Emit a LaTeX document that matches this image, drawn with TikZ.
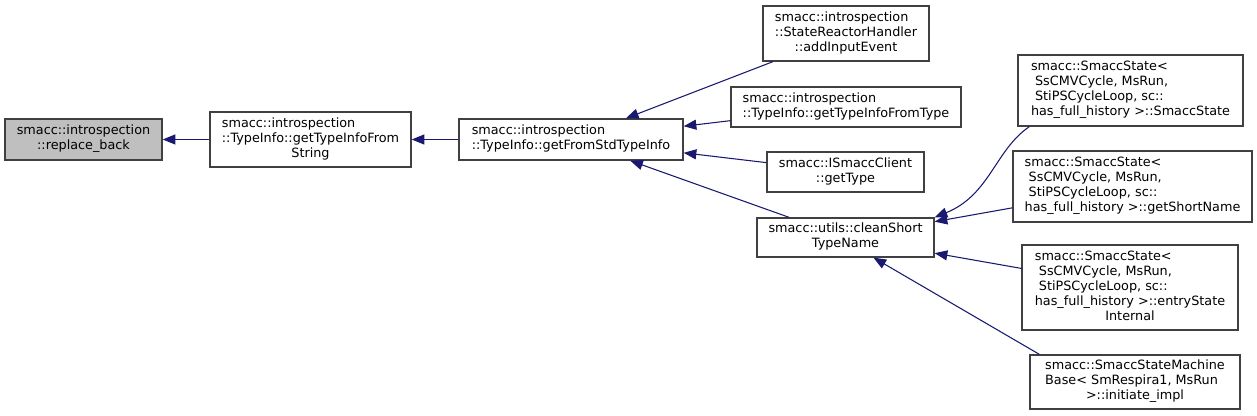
\documentclass[tikz,border=0pt]{standalone}
\usepackage{fontspec}
\setmainfont{DejaVu Sans}
\usepackage{xcolor}
\usepackage{tikz}
\usetikzlibrary{arrows.meta}
\definecolor{edgeblue}{HTML}{191970}
\definecolor{boxgray}{HTML}{BFBFBF}
\newcommand{\boxtext}[1]{\begin{tabular}{@{}l@{}}#1\end{tabular}}
\newcommand{\lastln}[1]{\multicolumn{1}{@{}c@{}}{#1}}

\begin{document}
\begin{tikzpicture}[x=0.75pt,y=-0.75pt,
  font=\fontsize{9.6}{11.25}\selectfont,
  fn/.style={draw=black!75, line width=1pt, fill=white, inner sep=0pt},
  edge/.style={draw=edgeblue, line width=0.8pt, -{Triangle[length=9.5pt,width=7.5pt]}}]
  \useasboundingbox (0,0) rectangle (1257,416);
  % callee chain
  \node[fn, fill=boxgray, minimum width=157*0.75pt, minimum height=41*0.75pt] (rb) at (83.5,139.5)
    {\boxtext{smacc::introspection\\\lastln{::replace\_back}}};
  \node[fn, minimum width=201*0.75pt, minimum height=55*0.75pt] (gtifs) at (310.5,139.5)
    {\boxtext{smacc::introspection\\::TypeInfo::getTypeInfoFrom\\\lastln{String}}};
  \node[fn, minimum width=224*0.75pt, minimum height=41*0.75pt] (gfsti) at (571,139.5)
    {\boxtext{smacc::introspection\\::TypeInfo::getFromStdTypeInfo}};
  % callers of getFromStdTypeInfo
  \node[fn, minimum width=166*0.75pt, minimum height=55*0.75pt] (aie) at (846,33.5)
    {\boxtext{smacc::introspection\\::StateReactorHandler\\\lastln{::addInputEvent}}};
  \node[fn, minimum width=230*0.75pt, minimum height=40*0.75pt] (gtift) at (846,107)
    {\boxtext{smacc::introspection\\::TypeInfo::getTypeInfoFromType}};
  \node[fn, minimum width=157*0.75pt, minimum height=40*0.75pt] (gt) at (845.5,172)
    {\boxtext{smacc::ISmaccClient\\\lastln{::getType}}};
  \node[fn, minimum width=177*0.75pt, minimum height=39*0.75pt] (csn) at (845.5,237.5)
    {\boxtext{smacc::utils::cleanShort\\\lastln{TypeName}}};
  % callers of cleanShortTypeName
  \node[fn, minimum width=225*0.75pt, minimum height=71*0.75pt] (ss) at (1130.5,90.5)
    {\boxtext{smacc::SmaccState<\\\ SsCMVCycle, MsRun,\\\ StiPSCycleLoop, sc::\\has\_full\_history >::SmaccState}};
  \node[fn, minimum width=239*0.75pt, minimum height=71*0.75pt] (gsn) at (1132.5,186.5)
    {\boxtext{smacc::SmaccState<\\\ SsCMVCycle, MsRun,\\\ StiPSCycleLoop, sc::\\has\_full\_history >::getShortName}};
  \node[fn, minimum width=216*0.75pt, minimum height=85*0.75pt] (esi) at (1130,287.5)
    {\boxtext{smacc::SmaccState<\\\ SsCMVCycle, MsRun,\\\ StiPSCycleLoop, sc::\\has\_full\_history >::entryState\\\lastln{Internal}}};
  \node[fn, minimum width=210*0.75pt, minimum height=54*0.75pt] (ii) at (1135,382)
    {\boxtext{smacc::SmaccStateMachine\\Base< SmRespira1, MsRun\\\lastln{>::initiate\_impl}}};
  % calls
  \draw[edge] (gtifs) -- (rb);
  \draw[edge] (gfsti) -- (gtifs);
  \draw[edge] (aie) -- (gfsti);
  \draw[edge] (gtift) -- (gfsti);
  \draw[edge] (gt) -- (gfsti);
  \draw[edge] (csn) -- (gfsti);
  \draw[edge] ([xshift=9pt]ss.south west) .. controls (995,150) and (990,195) .. (csn.north east);
  \draw[edge] (gsn) -- (csn);
  \draw[edge] (esi) -- (csn);
  \draw[edge] ([xshift=7.5pt]ii.north west) -- ([xshift=21pt]csn.south);
\end{tikzpicture}
\end{document}
